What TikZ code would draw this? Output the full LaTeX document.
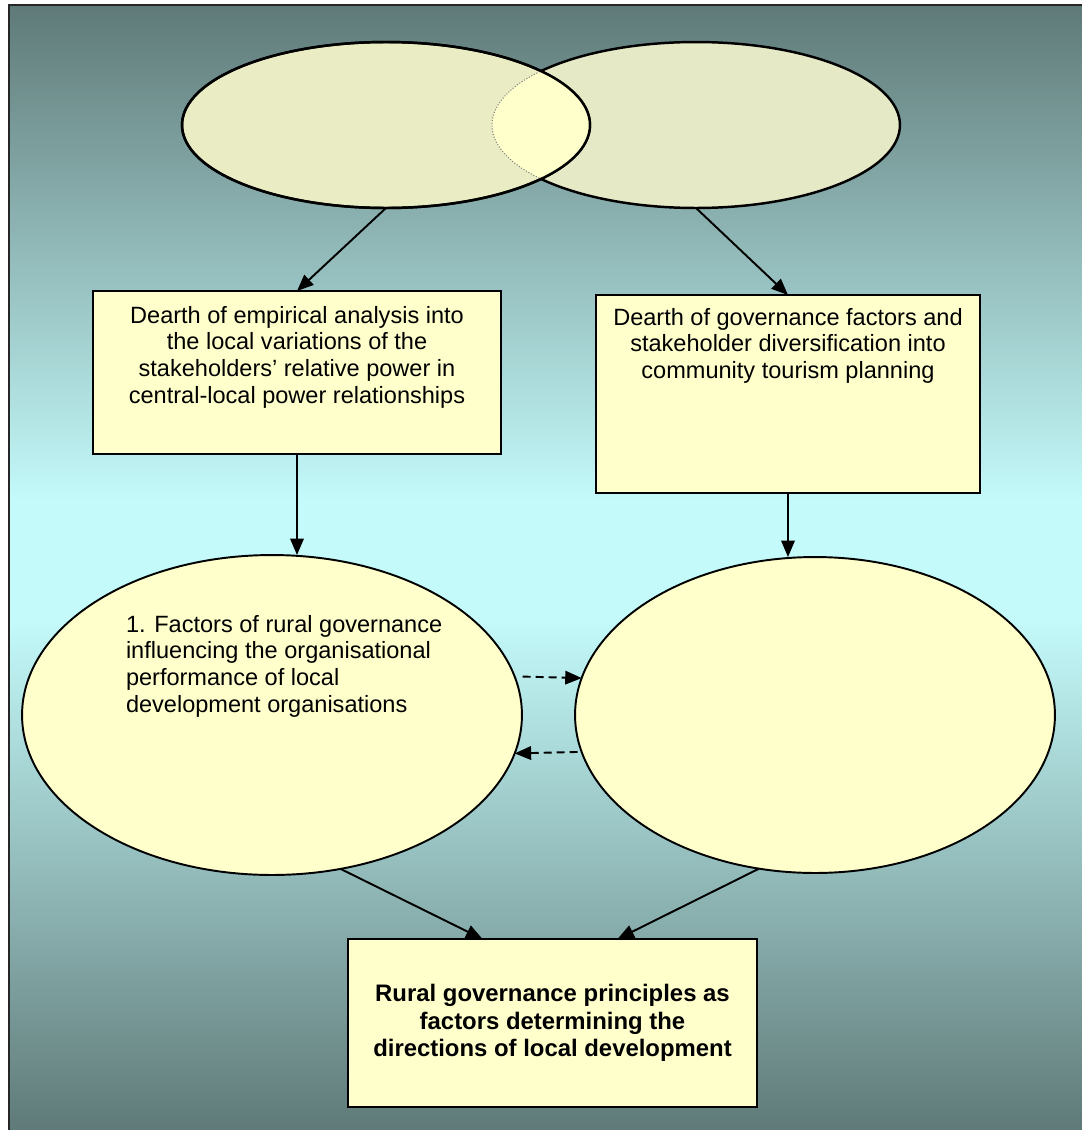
\documentclass[tikz,border=0pt]{standalone}
\usepackage{fontspec}
\setmainfont{Liberation Sans}
\usetikzlibrary{arrows.meta,shapes.geometric,calc}

\definecolor{bgdark}{RGB}{95,122,120}
\definecolor{bglight}{RGB}{196,250,250}
\definecolor{paleyellow}{RGB}{255,255,204}
\definecolor{textureA}{RGB}{234,237,196}
\definecolor{textureB}{RGB}{229,233,198}

\begin{document}
\begin{tikzpicture}[x=0.02cm,y=-0.02cm,
  every node/.style={inner sep=0pt, outer sep=0pt},
  txt/.style={font=\fontsize{13.4}{15.2}\selectfont, align=center},
  boldtxt/.style={font=\fontsize{13.6}{15.6}\selectfont\bfseries, align=center},
  box/.style={draw=black, line width=1.1pt, fill=paleyellow, rectangle},
  oval/.style={draw=black, line width=1.1pt, fill=paleyellow, ellipse},
  topoval/.style={draw=black, line width=1.4pt, ellipse,
    minimum width=8.16cm, minimum height=3.32cm},
  link/.style={line width=1.1pt, -{Triangle[length=0.33cm,width=0.27cm]}},
  dashlink/.style={link, dash pattern=on 0.16cm off 0.1cm}]

\useasboundingbox (0,0) rectangle (1082,1130);

% background panel with vertical gradient, framed on the left and top
\shade[top color=bgdark, bottom color=bglight] (9,5) rectangle (1082,500);
\fill[bglight] (9,499) rectangle (1082,621);
\shade[top color=bglight, bottom color=bgdark] (9,620) rectangle (1082,1130);
\draw[line width=1.2pt, black!85] (9,1130) -- (9,5) -- (1082,5);

% two overlapping textured ellipses
\node[topoval, fill=textureB] (topR) at (696,125) {};
\node[topoval, fill=textureA] (topL) at (386,125) {};
\begin{scope}
  \clip (386,125) ellipse [x radius=204, y radius=83];
  \fill[paleyellow] (696,125) ellipse [x radius=204, y radius=83];
  \draw[gray, densely dotted, line width=0.6pt] (696,125) ellipse [x radius=204, y radius=83];
\end{scope}
\draw[line width=1.4pt] (386,125) ellipse [x radius=204, y radius=83];

% boxes
\node[box, minimum width=8.16cm, minimum height=3.26cm] (boxL) at (297,372.5) {};
\node[txt, anchor=north] (boxLtxt) at (297,306)
  {Dearth of empirical analysis into\\the local variations of the\\stakeholders’ relative power in\\central-local power relationships};

\node[box, minimum width=7.68cm, minimum height=3.96cm] (boxR) at (788,394) {};
\node[txt, anchor=north] (boxRtxt) at (788,308)
  {Dearth of governance factors and\\stakeholder diversification into\\community tourism planning};

% lower ellipses
\node[oval, minimum width=10cm, minimum height=6.4cm] (ellL) at (272,715) {};
\node[txt, align=left, anchor=north west] (ellLtxt) at (126,615)
  {1. Factors of rural governance\\influencing the organisational\\performance of local\\development organisations};
\node[oval, minimum width=9.6cm, minimum height=6.32cm] (ellR) at (815,715) {};

% result box
\node[box, boldtxt, minimum width=8.18cm, minimum height=3.36cm] (result) at (552.5,1023)
  {Rural governance principles as\\factors determining the\\directions of local development};

% connectors
\draw[link] (topL.south) -- (boxL.north);
\draw[link] (topR.south) -- (boxR.north);
\draw[link] (boxL.south) -- (boxL.south |- ellL.north);
\draw[link] (boxR.south) -- (boxR.south |- ellR.north);
\draw[dashlink] ([xshift=0.16cm]ellL.9) -- (ellR.171);
\draw[dashlink] ([xshift=-0.08cm]ellR.189) -- (ellL.-9);
\draw[link] (ellL.-66) -- ([xshift=-1.4cm]result.north);
\draw[link] (ellR.-110) -- ([xshift=1.3cm]result.north);
\end{tikzpicture}
\end{document}
